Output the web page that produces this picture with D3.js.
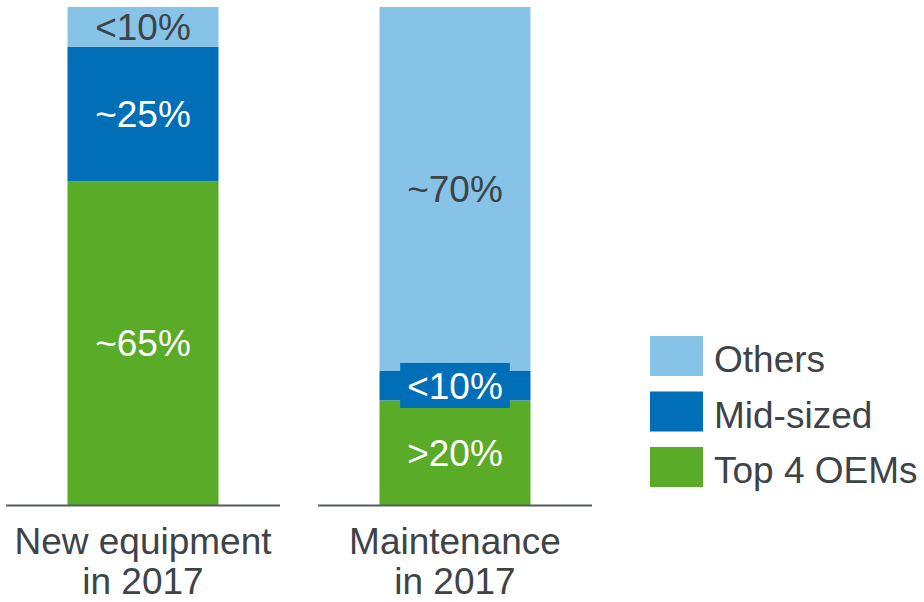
<!DOCTYPE html>
<html>
<head>
<meta charset="utf-8">
<script src="https://cdn.jsdelivr.net/npm/d3@7/dist/d3.min.js"></script>
<style>
  html, body { margin: 0; padding: 0; background: #ffffff; }
  svg { display: block; font-family: "Liberation Sans", Arial, sans-serif; }
</style>
</head>
<body>
<svg id="chart" width="924" height="602"></svg>
<script>
// Market share by player group (percent of total)
const categories = [["New equipment", "in 2017"], ["Maintenance", "in 2017"]];
const seriesNames = ["Top 4 OEMs", "Mid-sized", "Others"];
const top4 = [65, 21];
const midSized = [27, 6];
const others = [8, 73];
const valueLabels = {
  "Top 4 OEMs": ["~65%", ">20%"],
  "Mid-sized": ["~25%", "<10%"],
  "Others": ["<10%", "~70%"]
};
const legendOrder = ["Others", "Mid-sized", "Top 4 OEMs"];

const colors = {
  "Top 4 OEMs": "#5aab28",
  "Mid-sized": "#006fb8",
  "Others": "#87c2e7"
};
const labelColors = {
  "Top 4 OEMs": "#ffffff",
  "Mid-sized": "#ffffff",
  "Others": "#3d4347"
};
const textColor = "#3d4347";

const rows = categories.map((c, i) => ({
  key: c.join(" "),
  lines: c,
  "Top 4 OEMs": top4[i],
  "Mid-sized": midSized[i],
  "Others": others[i]
}));

const svg = d3.select("#chart");
const fontSize = 37;

const x = d3.scaleBand()
  .domain(rows.map(d => d.key))
  .range([-13, 611])
  .paddingInner(0)
  .paddingOuter(0);
const barWidth = 151;
const baseInset = 19;

const y = d3.scaleLinear().domain([0, 100]).range([505, 7]);

const stack = d3.stack().keys(seriesNames);
const layers = stack(rows);

// stacked segments
const g = svg.append("g");
layers.forEach(layer => {
  const name = layer.key;
  g.selectAll(null)
    .data(layer)
    .enter()
    .append("rect")
    .attr("x", d => x(d.data.key) + (x.bandwidth() - barWidth) / 2)
    .attr("width", barWidth)
    .attr("y", d => y(d[1]))
    .attr("height", d => y(d[0]) - y(d[1]))
    .attr("fill", colors[name]);
});

// baseline under each bar
svg.append("g").selectAll("line")
  .data(rows)
  .enter()
  .append("line")
  .attr("x1", d => x(d.key) + baseInset)
  .attr("x2", d => x(d.key) + x.bandwidth() - baseInset)
  .attr("y1", y(0) + 0.5)
  .attr("y2", y(0) + 0.5)
  .attr("stroke", "#555b5f")
  .attr("stroke-width", 2);

// value labels centred in each segment; a backing box when the segment is thinner than the text
const labelLayer = svg.append("g");
layers.forEach(layer => {
  const name = layer.key;
  layer.forEach((d, i) => {
    const cx = x(d.data.key) + x.bandwidth() / 2;
    const cy = (y(d[0]) + y(d[1])) / 2;
    const segH = y(d[0]) - y(d[1]);
    const grp = labelLayer.append("g");
    const t = grp.append("text")
      .attr("x", cx)
      .attr("y", cy)
      .attr("dy", "0.36em")
      .attr("text-anchor", "middle")
      .attr("font-size", fontSize)
      .attr("fill", labelColors[name])
      .text(valueLabels[name][i]);
    if (segH < 34) {
      const bb = t.node().getBBox();
      grp.insert("rect", "text")
        .attr("x", cx - bb.width / 2 - 7)
        .attr("width", bb.width + 14)
        .attr("y", cy - 22.5)
        .attr("height", 45)
        .attr("fill", colors[name]);
    }
  });
});

// category labels
svg.append("g").selectAll("text")
  .data(rows)
  .enter()
  .append("text")
  .attr("text-anchor", "middle")
  .attr("font-size", fontSize)
  .attr("fill", textColor)
  .each(function(d) {
    const t = d3.select(this);
    d.lines.forEach((line, k) => {
      t.append("tspan")
        .attr("x", x(d.key) + x.bandwidth() / 2)
        .attr("y", 554 + k * 40)
        .text(line);
    });
  });

// legend
const legend = svg.append("g").attr("transform", "translate(650,336)");
const item = legend.selectAll("g")
  .data(legendOrder)
  .enter()
  .append("g")
  .attr("transform", (d, i) => `translate(0,${i * 55.5})`);
item.append("rect")
  .attr("width", 53)
  .attr("height", 40)
  .attr("fill", d => colors[d]);
item.append("text")
  .attr("x", 64)
  .attr("y", 36)
  .attr("font-size", fontSize)
  .attr("fill", textColor)
  .text(d => d);
</script>
</body>
</html>
